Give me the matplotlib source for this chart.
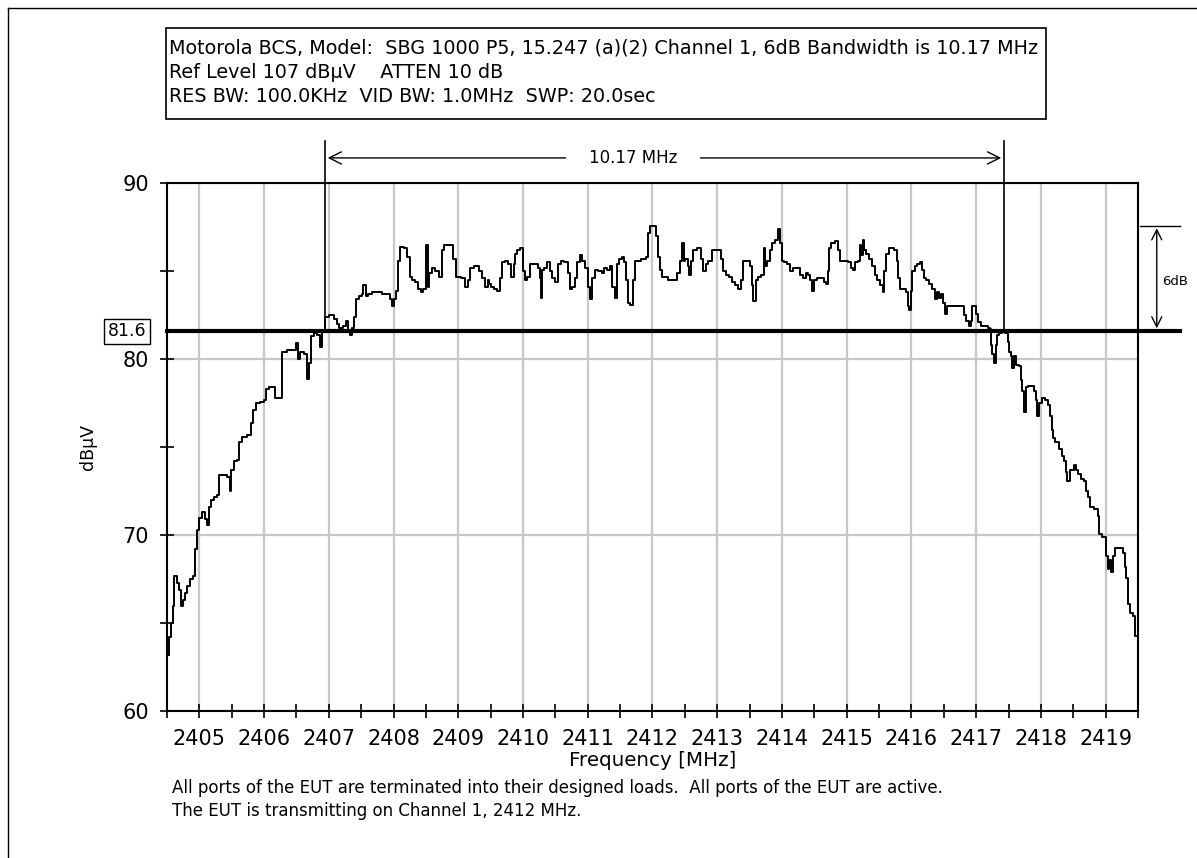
import matplotlib
matplotlib.use("Agg")
import matplotlib.pyplot as plt
import matplotlib.transforms as mtransforms
from matplotlib.lines import Line2D
from matplotlib.patches import Rectangle

# spectrum trace
freq = [2404.53, 2404.54, 2404.58, 2404.60, 2404.63, 2404.67, 2404.71, 2404.73, 2404.76, 2404.79,
        2404.83, 2404.88, 2404.91, 2404.95, 2404.98, 2405.02, 2405.07, 2405.10, 2405.13, 2405.17,
        2405.20, 2405.25, 2405.30, 2405.32, 2405.40, 2405.45, 2405.49, 2405.50, 2405.56, 2405.60,
        2405.63, 2405.68, 2405.79, 2405.82, 2405.85, 2405.91, 2405.97, 2406.02, 2406.05, 2406.10,
        2406.15, 2406.20, 2406.25, 2406.29, 2406.43, 2406.48, 2406.51, 2406.53, 2406.59, 2406.64,
        2406.68, 2406.71, 2406.74, 2406.79, 2406.84, 2406.88, 2406.92, 2406.97, 2407.05, 2407.10,
        2407.14, 2407.19, 2407.24, 2407.28, 2407.31, 2407.35, 2407.38, 2407.41, 2407.44, 2407.49,
        2407.52, 2407.55, 2407.59, 2407.61, 2407.72, 2407.79, 2407.85, 2407.92, 2407.96, 2407.99,
        2408.03, 2408.05, 2408.08, 2408.13, 2408.19, 2408.23, 2408.27, 2408.31, 2408.36, 2408.41,
        2408.44, 2408.48, 2408.52, 2408.53, 2408.57, 2408.62, 2408.67, 2408.72, 2408.77, 2408.80,
        2408.90, 2408.95, 2408.99, 2409.08, 2409.13, 2409.16, 2409.21, 2409.29, 2409.34, 2409.39,
        2409.44, 2409.47, 2409.49, 2409.53, 2409.58, 2409.63, 2409.66, 2409.70, 2409.75, 2409.80,
        2409.84, 2409.87, 2409.89, 2409.93, 2409.99, 2410.02, 2410.04, 2410.08, 2410.13, 2410.21,
        2410.24, 2410.27, 2410.28, 2410.30, 2410.34, 2410.40, 2410.44, 2410.47, 2410.52, 2410.56,
        2410.60, 2410.68, 2410.71, 2410.74, 2410.78, 2410.82, 2410.86, 2410.89, 2410.93, 2410.99,
        2411.02, 2411.05, 2411.09, 2411.13, 2411.19, 2411.24, 2411.27, 2411.32, 2411.36, 2411.40,
        2411.43, 2411.47, 2411.50, 2411.55, 2411.58, 2411.60, 2411.64, 2411.68, 2411.71, 2411.76,
        2411.88, 2411.91, 2411.94, 2411.98, 2412.03, 2412.07, 2412.10, 2412.13, 2412.15, 2412.22,
        2412.26, 2412.35, 2412.40, 2412.44, 2412.48, 2412.49, 2412.53, 2412.56, 2412.58, 2412.61,
        2412.63, 2412.74, 2412.77, 2412.80, 2412.84, 2412.89, 2412.94, 2413.04, 2413.08, 2413.11,
        2413.15, 2413.20, 2413.25, 2413.30, 2413.35, 2413.39, 2413.42, 2413.48, 2413.52, 2413.54,
        2413.58, 2413.61, 2413.66, 2413.70, 2413.73, 2413.75, 2413.79, 2413.83, 2413.87, 2413.92,
        2413.96, 2413.99, 2414.01, 2414.05, 2414.10, 2414.15, 2414.20, 2414.25, 2414.31, 2414.35,
        2414.38, 2414.41, 2414.45, 2414.49, 2414.51, 2414.56, 2414.63, 2414.66, 2414.69, 2414.72,
        2414.74, 2414.79, 2414.86, 2414.88, 2414.91, 2414.96, 2415.00, 2415.04, 2415.08, 2415.12,
        2415.15, 2415.19, 2415.21, 2415.23, 2415.26, 2415.28, 2415.33, 2415.36, 2415.41, 2415.45,
        2415.50, 2415.54, 2415.57, 2415.59, 2415.63, 2415.69, 2415.76, 2415.79, 2415.81, 2415.85,
        2415.90, 2415.93, 2415.95, 2415.98, 2416.00, 2416.03, 2416.07, 2416.11, 2416.15, 2416.17,
        2416.21, 2416.25, 2416.30, 2416.34, 2416.38, 2416.41, 2416.44, 2416.48, 2416.51, 2416.53,
        2416.56, 2416.65, 2416.80, 2416.82, 2416.87, 2416.90, 2416.93, 2416.95, 2416.97, 2417.02,
        2417.05, 2417.11, 2417.16, 2417.20, 2417.22, 2417.24, 2417.26, 2417.29, 2417.32, 2417.33,
        2417.37, 2417.42, 2417.47, 2417.50, 2417.52, 2417.55, 2417.56, 2417.60, 2417.63, 2417.68,
        2417.70, 2417.73, 2417.75, 2417.78, 2417.82, 2417.88, 2417.91, 2417.93, 2417.96, 2417.99,
        2418.04, 2418.10, 2418.13, 2418.15, 2418.18, 2418.20, 2418.25, 2418.30, 2418.34, 2418.37,
        2418.40, 2418.42, 2418.48, 2418.54, 2418.56, 2418.60, 2418.65, 2418.68, 2418.71, 2418.75,
        2418.78, 2418.86, 2418.89, 2418.91, 2418.99, 2419.02, 2419.04, 2419.07, 2419.11, 2419.13,
        2419.17, 2419.25, 2419.28, 2419.31, 2419.33, 2419.36, 2419.40, 2419.44, 2419.47]

level = [63.2, 64.2, 65.0, 66.0, 67.7, 67.3, 66.9, 66.0, 66.3, 66.7,
         67.1, 67.5, 67.7, 69.2, 70.3, 71.0, 71.3, 70.9, 70.6, 71.6,
         72.0, 72.2, 72.3, 73.4, 73.4, 73.3, 72.5, 73.7, 74.2, 74.3,
         75.3, 75.6, 75.7, 76.4, 77.1, 77.5, 77.6, 77.7, 78.3, 78.4,
         78.4, 77.8, 77.8, 80.4, 80.5, 80.5, 80.9, 80.0, 80.4, 80.3,
         78.9, 79.8, 81.3, 81.5, 81.4, 80.7, 81.6, 82.4, 82.5, 82.3,
         82.0, 81.8, 81.9, 82.2, 81.6, 81.4, 81.8, 82.4, 83.4, 83.6,
         83.7, 84.2, 83.6, 83.7, 83.8, 83.8, 83.7, 83.7, 83.4, 83.0,
         83.4, 83.9, 85.6, 86.4, 86.3, 85.8, 84.7, 84.5, 84.4, 84.0,
         83.8, 84.0, 86.5, 84.1, 84.9, 85.2, 85.0, 84.7, 86.2, 86.5,
         86.5, 85.7, 84.7, 84.6, 84.1, 84.5, 85.2, 85.3, 85.0, 84.6,
         84.1, 84.5, 84.3, 84.1, 84.0, 83.9, 84.6, 85.5, 85.6, 85.4,
         84.7, 85.4, 86.0, 86.2, 86.3, 85.0, 84.5, 84.7, 85.4, 85.4,
         85.2, 84.6, 83.5, 85.1, 85.2, 85.5, 85.0, 84.6, 84.4, 85.4,
         85.6, 85.5, 84.9, 84.0, 84.1, 84.6, 85.5, 85.9, 85.6, 85.2,
         84.1, 83.4, 84.6, 85.1, 85.0, 84.9, 85.2, 85.1, 85.3, 84.1,
         83.5, 85.4, 85.7, 85.8, 85.5, 84.5, 83.2, 83.1, 84.5, 85.6,
         85.7, 85.8, 87.2, 87.6, 87.6, 87.0, 85.8, 85.1, 84.7, 84.7,
         84.5, 84.5, 84.9, 85.6, 86.6, 85.6, 85.7, 85.3, 84.8, 85.6,
         86.2, 86.3, 85.7, 85.0, 85.4, 85.6, 86.2, 86.2, 85.7, 85.0,
         84.8, 84.7, 84.4, 84.2, 84.0, 84.5, 85.6, 85.6, 85.3, 84.2,
         83.3, 84.5, 84.7, 84.8, 86.3, 85.3, 85.6, 86.2, 86.6, 86.8,
         87.4, 86.6, 85.6, 85.5, 85.4, 85.0, 85.2, 85.2, 84.8, 84.6,
         84.9, 84.8, 84.5, 83.9, 84.5, 84.6, 84.6, 84.4, 84.3, 85.0,
         86.3, 86.6, 86.7, 86.2, 85.6, 85.6, 85.6, 85.5, 85.2, 85.1,
         85.5, 85.6, 86.5, 85.9, 86.8, 86.2, 86.0, 85.7, 85.3, 84.8,
         84.5, 84.2, 83.8, 85.0, 86.0, 86.3, 86.2, 85.6, 84.6, 84.0,
         84.0, 83.8, 83.0, 82.8, 83.9, 85.0, 85.3, 85.4, 85.5, 85.1,
         84.6, 84.5, 84.3, 84.0, 83.4, 83.8, 83.5, 83.7, 83.2, 82.6,
         83.0, 83.0, 83.0, 82.5, 82.2, 81.9, 82.2, 83.0, 83.0, 82.6,
         82.1, 81.9, 81.9, 81.8, 81.7, 80.8, 80.3, 79.8, 80.8, 81.4,
         81.5, 81.6, 81.5, 81.0, 80.4, 80.2, 79.5, 80.2, 79.7, 79.6,
         78.8, 78.2, 77.0, 78.4, 78.5, 78.5, 78.2, 77.7, 76.8, 77.5,
         77.8, 77.7, 77.4, 76.8, 76.0, 75.5, 75.3, 74.9, 74.5, 74.2,
         73.6, 73.1, 73.7, 74.0, 73.7, 73.5, 73.2, 73.1, 72.5, 72.2,
         71.6, 71.5, 71.1, 70.1, 69.9, 68.8, 68.1, 68.6, 67.9, 68.8,
         69.3, 69.3, 69.0, 68.2, 67.6, 66.1, 65.6, 65.4, 64.3]

x_ticks = [2405, 2406, 2407, 2408, 2409, 2410, 2411, 2412, 2413, 2414, 2415, 2416, 2417, 2418, 2419]
y_ticks = [60, 70, 80, 90]
ref_level = 81.6
edge_lo = 2406.94
edge_hi = 2417.43
drop_db = 6

header = ["Motorola BCS, Model:  SBG 1000 P5, 15.247 (a)(2) Channel 1, 6dB Bandwidth is 10.17 MHz",
          "Ref Level 107 dB\u00b5V    ATTEN 10 dB",
          "RES BW: 100.0KHz  VID BW: 1.0MHz  SWP: 20.0sec"]
notes = ["All ports of the EUT are terminated into their designed loads.  All ports of the EUT are active.",
         "The EUT is transmitting on Channel 1, 2412 MHz."]

plt.rcParams['font.family'] = ['DejaVu Sans']

fig = plt.figure(figsize=(11.97, 8.58), dpi=100)
ax = fig.add_axes([0.1395, 0.1710, 0.8112, 0.6154])

ax.plot(freq, level, color='black', lw=1.4, drawstyle='steps-mid', zorder=3)

ax.set_xlim(2404.5, 2419.5)
ax.set_ylim(60, 90)
ax.set_xticks(x_ticks)
ax.set_xticks([t + 0.5 for t in x_ticks] + [2404.5], minor=True)
ax.set_yticks(y_ticks)
ax.set_yticks([65, 75, 85], minor=True)
ax.tick_params(axis='both', which='both', direction='inout', length=10, width=1.2, labelsize=15)
ax.tick_params(axis='x', pad=8)
ax.tick_params(axis='y', pad=8)
ax.grid(True, which='major', color='#c8c8c8', lw=1.6, zorder=0)
for s in ax.spines.values():
    s.set_linewidth(1.5)

ax.set_xlabel('Frequency [MHz]', fontsize=14.3, labelpad=1)
ax.set_ylabel('dB\u00b5V', fontsize=12.5, labelpad=18)

# reference line and band edges
ax.plot([2404.5, 2420.15], [ref_level, ref_level], color='black', lw=3, clip_on=False, zorder=4)
for e in (edge_lo, edge_hi):
    ax.plot([e, e], [ref_level, 92.4], color='black', lw=1.2, clip_on=False, zorder=4)

mid = 2411.70
arr = dict(arrowstyle='->', lw=1.0, color='black', mutation_scale=22)
ax.annotate('', xy=(edge_lo, 91.44), xytext=(mid - 1.0, 91.44), arrowprops=arr, annotation_clip=False)
ax.annotate('', xy=(edge_hi, 91.44), xytext=(mid + 1.0, 91.44), arrowprops=arr, annotation_clip=False)
ax.text(mid, 91.44, '10.17 MHz', ha='center', va='center', fontsize=12, clip_on=False)

# 6 dB marker on the right
ax.annotate('', xy=(2419.79, ref_level + drop_db), xytext=(2419.79, ref_level),
            arrowprops=dict(arrowstyle='<->', lw=1.0, color='black', mutation_scale=18),
            annotation_clip=False)
ax.plot([2419.53, 2420.15], [ref_level + drop_db] * 2, color='black', lw=1.0, clip_on=False)
ax.text(2420.07, 84.4, '%ddB' % drop_db, ha='center', va='center', fontsize=9.5, clip_on=False)

trans = mtransforms.blended_transform_factory(ax.transAxes, ax.transData)
ax.text(-0.041, ref_level, '%.1f' % ref_level, transform=trans, ha='center', va='center', fontsize=12.5,
        bbox=dict(boxstyle='square,pad=0.2', fc='white', ec='black', lw=1.0))

# header box
fig.add_artist(Rectangle((0.1387, 0.8613), 0.7352, 0.1061, transform=fig.transFigure,
                         fill=False, ec='black', lw=1.2))
for i, line in enumerate(header):
    fig.text(0.1410, 0.944 - i * 0.0280, line, ha='left', va='center', fontsize=13.8)

for i, line in enumerate(notes):
    fig.text(0.1435, 0.0815 - i * 0.027, line, ha='left', va='center', fontsize=12)

# outer frame (left and top edges visible)
fig.add_artist(Line2D([8 / 1197, 8 / 1197], [0, 1 - 8 / 858], transform=fig.transFigure, color='black', lw=1))
fig.add_artist(Line2D([8 / 1197, 1], [1 - 8 / 858, 1 - 8 / 858], transform=fig.transFigure, color='black', lw=1))

fig.savefig('out.png', dpi=100)
